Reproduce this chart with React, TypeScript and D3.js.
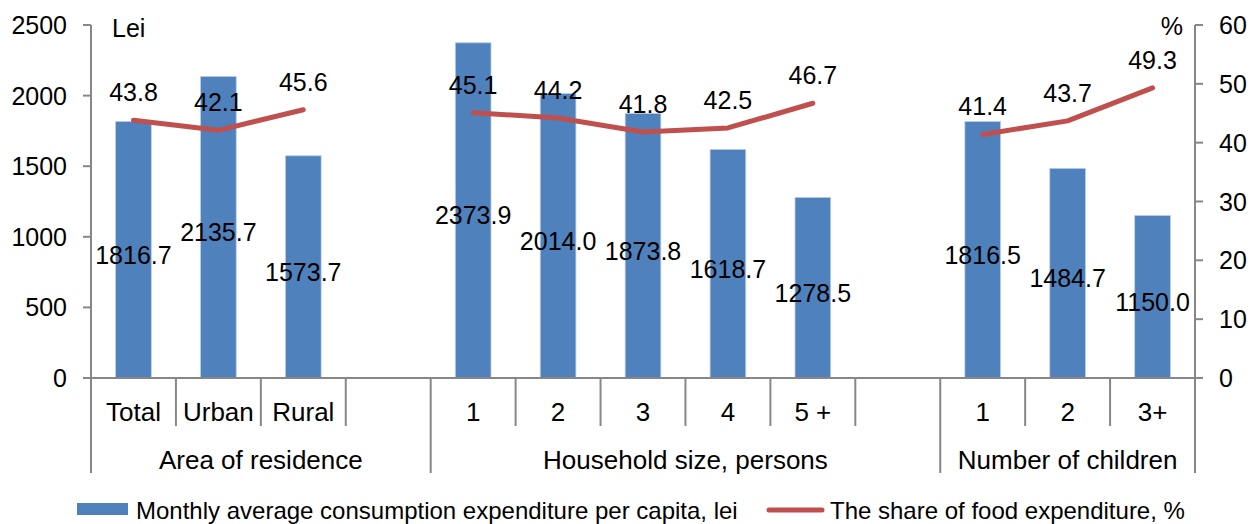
import React from "react";
import * as d3 from "d3";

const categories = ["Total", "Urban", "Rural", "", "1", "2", "3", "4", "5 +", "", "1", "2", "3+"];
const expenditure: (number | null)[] = [1816.7, 2135.7, 1573.7, null, 2373.9, 2014.0, 1873.8, 1618.7, 1278.5, null, 1816.5, 1484.7, 1150.0];
const foodShare: (number | null)[] = [43.8, 42.1, 45.6, null, 45.1, 44.2, 41.8, 42.5, 46.7, null, 41.4, 43.7, 49.3];
const groupLabels = ["Area of residence", "Household size, persons", "Number of children"];
const groupSpans = [4, 6, 3];
const leftTicks = [0, 500, 1000, 1500, 2000, 2500];
const rightTicks = [0, 10, 20, 30, 40, 50, 60];

const W = 1250;
const H = 524;
const FONT = "'Liberation Sans', Arial, sans-serif";
const BLUE = "#4F81BD";
const RED = "#C0504D";
const AXIS = "#878787";

export default function App() {
  const x = d3.scaleBand<number>().domain(categories.map((_, i) => i)).range([91, 1195]).paddingInner(0).paddingOuter(0);
  const yL = d3.scaleLinear().domain([0, 2500]).range([378, 25]);
  const yR = d3.scaleLinear().domain([0, 60]).range([378, 25]);
  const bw = x.bandwidth();
  const barW = bw * 0.42;
  const cx = (i: number) => (x(i) as number) + bw / 2;

  const line = d3
    .line<number | null>()
    .defined((d) => d !== null)
    .x((_, i) => cx(i))
    .y((d) => yR(d as number));

  // group boundaries
  const bounds: number[] = [0];
  groupSpans.forEach((s) => bounds.push(bounds[bounds.length - 1] + s));
  const bx = (k: number) => (k < categories.length ? (x(k) as number) : 1195);

  return (
    <svg width={W} height={H} style={{ position: "absolute", left: 0, top: 0, background: "#fff" }} fontFamily={FONT}>
      {/* bars */}
      {expenditure.map((v, i) =>
        v === null ? null : (
          <rect key={"b" + i} x={cx(i) - barW / 2} y={yL(v)} width={barW} height={yL(0) - yL(v)} fill={BLUE} stroke="#B9CDE5" strokeWidth={0.8} />
        )
      )}
      {/* left axis */}
      <line x1={91} x2={91} y1={25} y2={473} stroke={AXIS} strokeWidth={2} />
      {leftTicks.map((t) => (
        <g key={"lt" + t}>
          <line x1={83} x2={91} y1={yL(t)} y2={yL(t)} stroke={AXIS} strokeWidth={2} />
          <text x={67} y={yL(t) + 9} fontSize={25} textAnchor="end" fill="#000">
            {t}
          </text>
        </g>
      ))}
      {/* right axis */}
      <line x1={1195} x2={1195} y1={25} y2={473} stroke={AXIS} strokeWidth={2} />
      {rightTicks.map((t) => (
        <g key={"rt" + t}>
          <line x1={1195} x2={1203} y1={yR(t)} y2={yR(t)} stroke={AXIS} strokeWidth={2} />
          <text x={1219} y={yR(t) + 9} fontSize={25} textAnchor="start" fill="#000">
            {t}
          </text>
        </g>
      ))}
      {/* x axis baseline */}
      <line x1={91} x2={1195} y1={378} y2={378} stroke={AXIS} strokeWidth={2} />
      {/* category ticks */}
      {categories.map((_, i) => {
        const isGroup = bounds.includes(i);
        if (i === 0) return null;
        return <line key={"ct" + i} x1={x(i) as number} x2={x(i) as number} y1={378} y2={isGroup ? 473 : 426} stroke={AXIS} strokeWidth={2} />;
      })}
      {/* category labels */}
      {categories.map((c, i) => (
        <text key={"cl" + i} x={cx(i)} y={421} fontSize={26} textAnchor="middle" fill="#000">
          {c}
        </text>
      ))}
      {/* group labels */}
      {groupLabels.map((g, k) => (
        <text key={"g" + k} x={(bx(bounds[k]) + bx(bounds[k + 1])) / 2} y={469} fontSize={26} textAnchor="middle" fill="#000">
          {g}
        </text>
      ))}
      {/* line */}
      <path d={line(foodShare) || ""} fill="none" stroke={RED} strokeWidth={5} strokeLinecap="round" strokeLinejoin="round" />
      {/* bar labels */}
      {expenditure.map((v, i) =>
        v === null ? null : (
          <text key={"bl" + i} x={cx(i)} y={(yL(v) + yL(0)) / 2 + 14} fontSize={25} textAnchor="middle" fill="#000">
            {v.toFixed(1)}
          </text>
        )
      )}
      {/* line labels */}
      {foodShare.map((v, i) =>
        v === null ? null : (
          <text key={"ll" + i} x={cx(i)} y={yR(v) - 19} fontSize={25} textAnchor="middle" fill="#000">
            {v.toFixed(1)}
          </text>
        )
      )}
      {/* unit labels */}
      <text x={112} y={37} fontSize={25} fill="#000">Lei</text>
      <text x={1183} y={35} fontSize={25} textAnchor="end" fill="#000">%</text>
      {/* legend */}
      <rect x={77} y={503} width={51} height={12} fill={BLUE} />
      <text x={136} y={519} fontSize={24} fill="#000">Monthly average consumption expenditure per capita, lei</text>
      <line x1={769} x2={822} y1={510} y2={510} stroke={RED} strokeWidth={5} strokeLinecap="round" />
      <text x={830} y={519} fontSize={24} fill="#000">The share of food expenditure, %</text>
    </svg>
  );
}
